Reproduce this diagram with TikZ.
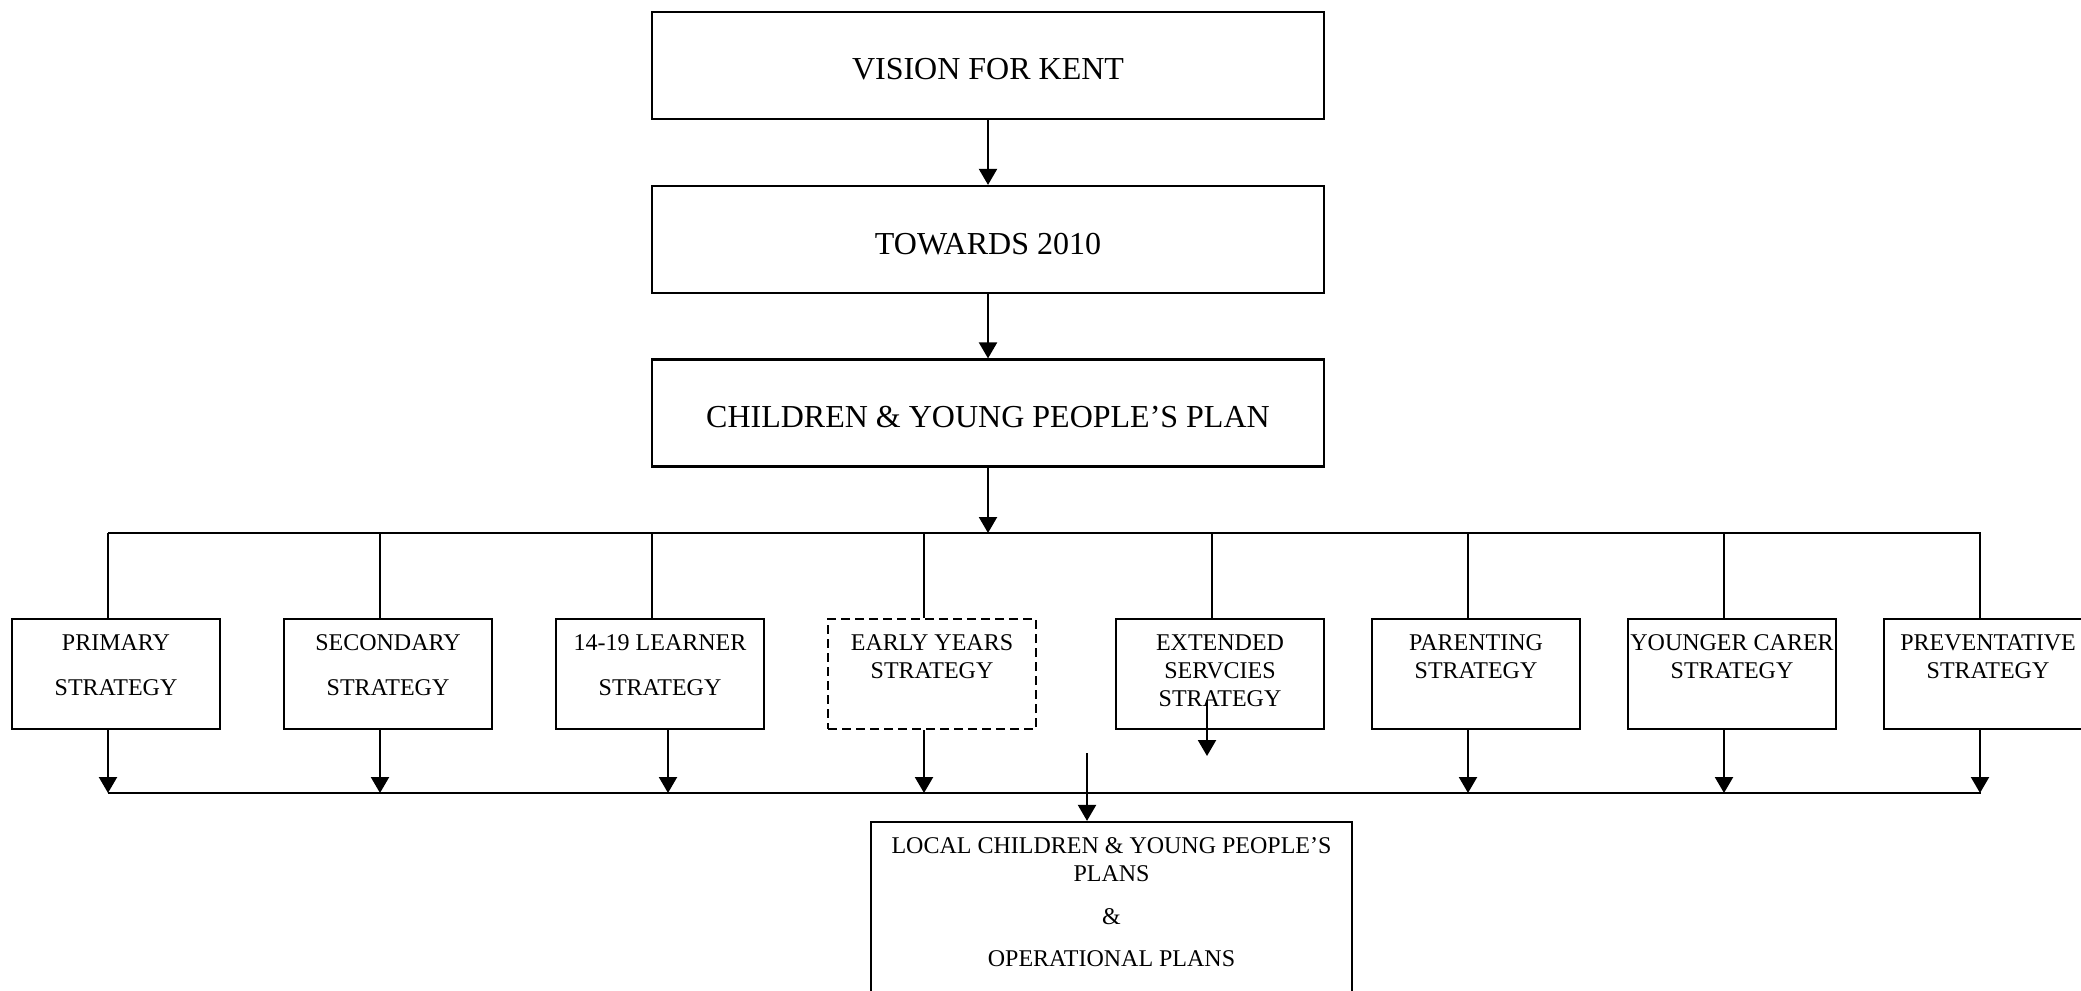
\documentclass[tikz,border=0pt]{standalone}
\usepackage{fontspec}
\setmainfont{Liberation Serif}
\usetikzlibrary{arrows.meta,calc}
\begin{document}
\begin{tikzpicture}[x=0.5pt,y=-0.5pt,
  line width=1.1pt,
  bigbox/.style={draw, minimum width=336pt, minimum height=53.5pt, inner sep=0pt, text height=14.5pt, text depth=0pt, font=\fontsize{16}{19}\selectfont},
  stratbox/.style={draw, minimum width=104pt, minimum height=55pt, inner sep=0pt},
  dashbox/.style={stratbox, dash pattern=on 4.5pt off 2.5pt},
  strattext/.style={anchor=base, align=center, font=\fontsize{12}{14}\selectfont, inner sep=0pt},
  arr/.style={-{Triangle[length=8pt,width=9pt]}},
  ]
\useasboundingbox (0,0) rectangle (2081,990);

% top chain
\node[bigbox] (vision) at (988,65.5) {VISION FOR KENT};
\node[bigbox] (towards) at (988,239.5) {TOWARDS 2010};
\node[bigbox] (cypp) at (988,413) {CHILDREN \& YOUNG PEOPLE'S PLAN};
\draw[arr] (vision) -- (towards);
\draw[arr] (towards) -- (cypp);

% buses
\coordinate (busTL) at (108,533);
\coordinate (busTR) at (1981,533);
\coordinate (busBL) at (108,793);
\coordinate (busBR) at (1981,793);
\draw[arr] (cypp.south) -- (cypp.south |- busTL);
\draw (busTL) -- (busTR);
\draw (busBL) -- (busBR);

% strategy boxes
\node[stratbox] (prim) at (116,674) {};
\node[stratbox] (sec)  at (388,674) {};
\node[stratbox] (lrn)  at (660,674) {};
\node[dashbox]  (early) at (932,674) {};
\node[stratbox] (ext)  at (1220,674) {};
\node[stratbox] (par)  at (1476,674) {};
\node[stratbox] (ycar) at (1732,674) {};
\node[stratbox] (prev) at (1988,674) {};

% text nodes: anchor base = baseline of last line
\node[strattext] (primT) at (116,695) {PRIMARY\\[8.5pt]STRATEGY};
\node[strattext] (secT)  at (388,695) {SECONDARY\\[8.5pt]STRATEGY};
\node[strattext] (lrnT)  at (660,695) {14-19 LEARNER\\[8.5pt]STRATEGY};
\node[strattext] (earlyT) at (932,678) {EARLY YEARS\\STRATEGY};
\node[strattext] (extT)  at (1220,706) {EXTENDED\\SERVCIES\\STRATEGY};
\node[strattext] (parT)  at (1476,678) {PARENTING\\STRATEGY};
\node[strattext] (ycarT) at (1732,678) {YOUNGER CARER\\STRATEGY};
\node[strattext] (prevT) at (1988,678) {PREVENTATIVE\\STRATEGY};

% connectors from top bus
\foreach \b in {prim,sec,lrn,early,ext,par,ycar,prev}
  \draw ([xshift=-4pt]\b.north |- busTL) -- ([xshift=-4pt]\b.north);

% arrows down to bottom bus
\foreach \b in {prim,sec,early,par,ycar,prev}
  \draw[arr] ([xshift=-4pt]\b.south) -- ([xshift=-4pt]\b.south |- busBL);
\draw[arr] ([xshift=4pt]lrn.south) -- ([xshift=4pt]lrn.south |- busBL);

% stray arrow in extended box
\coordinate (extA) at (1207,700);
\coordinate (extB) at (1207,756);
\draw[arr] (extA) -- (extB);

% local plans
\node[draw, minimum width=240.5pt, minimum height=89pt, inner sep=0pt] (local) at (1111.5,911) {};
\node[strattext] (localT) at (1111.5,966) {LOCAL CHILDREN \& YOUNG PEOPLE'S\\PLANS\\[7.5pt]\&\\[7pt]OPERATIONAL PLANS};
\coordinate (midA) at (1087,753);
\draw[arr] (midA) -- (midA |- local.north);
\end{tikzpicture}
\end{document}
